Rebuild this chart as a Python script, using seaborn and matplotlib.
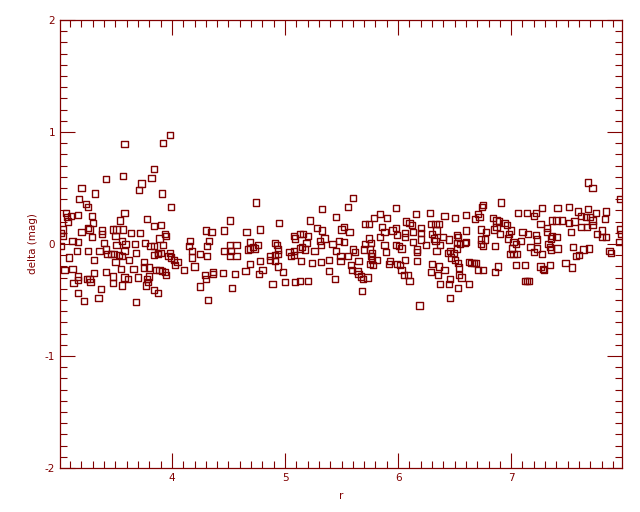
import matplotlib
matplotlib.use("Agg")
import matplotlib.pyplot as plt
from matplotlib.ticker import MultipleLocator
import seaborn as sns
import pandas as pd

# values (r, delta in mag)
r_vals = [
    3.58, 3.84, 3.57, 3.42, 3.82, 3.73, 3.20, 3.71, 3.32, 3.18,
    3.24, 3.26, 3.06, 3.58, 3.17, 3.11, 3.07, 3.29, 3.54, 3.78,
    3.98, 3.92, 3.91, 3.99, 4.51, 4.74, 5.33, 5.22, 5.45, 5.60,
    5.56, 5.98, 6.16, 6.28, 5.84, 5.79, 5.90, 6.07, 6.91, 6.75,
    6.74, 6.41, 6.50, 6.60, 6.71, 6.72, 6.68, 6.84, 6.87, 7.06,
    7.68, 7.72, 7.96, 7.27, 7.41, 7.51, 7.68, 7.59, 7.84, 7.14,
    7.22, 7.20, 7.75, 7.62, 7.70, 7.66, 7.36, 7.40, 7.45, 7.56,
    7.72, 7.83,
    3.08, 3.30, 3.84, 3.26, 3.27, 3.04, 3.20, 3.38, 3.38, 3.48,
    3.51, 3.57, 3.64, 3.72, 3.02, 3.04, 3.29, 3.50, 3.12, 3.17,
    3.40, 3.56, 3.59, 3.51, 3.67, 3.76, 3.81, 3.84, 3.02, 3.16,
    3.26, 3.36, 3.42, 3.43, 3.46, 3.49, 3.53, 3.56, 3.58, 3.68,
    3.62, 3.09, 3.31, 3.50, 3.75, 3.84, 3.75, 3.55, 3.66, 3.05,
    3.12, 3.31, 3.42, 3.80, 3.17, 3.17, 3.25, 3.27, 3.28, 3.48,
    3.58, 3.61, 3.70, 3.80, 3.78, 3.79, 3.48, 3.56, 3.13, 3.77,
    3.84, 3.37, 3.17, 3.35, 3.22, 3.68,
    3.90, 4.30, 4.35, 4.46, 4.66, 3.94, 3.95, 3.89, 4.16, 4.33,
    3.92, 4.15, 4.31, 4.51, 4.57, 4.18, 4.46, 4.52, 4.67, 3.88,
    3.88, 3.90, 3.98, 3.97, 3.99, 4.02, 4.25, 4.31, 4.18, 4.51,
    4.57, 4.05, 4.03, 4.20, 3.86, 3.89, 3.91, 3.94, 3.95, 4.11,
    4.36, 4.36, 4.29, 4.30, 4.45, 4.56, 4.65, 4.25, 4.53, 3.88,
    4.32,
    4.95, 4.78, 5.28, 5.33, 5.50, 5.08, 5.09, 5.13, 5.16, 5.20,
    4.69, 5.35, 5.31, 5.48, 4.91, 4.93, 5.19, 5.32, 5.42, 4.76,
    4.72, 4.73, 4.69, 4.94, 5.15, 5.18, 5.13, 5.04, 5.08, 5.26,
    5.45, 4.94, 4.91, 5.05, 5.08, 4.87, 4.87, 4.91, 4.78, 5.14,
    5.39, 5.49, 5.24, 5.32, 4.94, 4.69, 4.80, 4.98, 5.39, 4.77,
    5.44, 5.00, 5.09, 5.13, 5.20, 4.89,
    6.10, 6.12, 6.29, 5.52, 5.71, 5.74, 5.57, 5.86, 5.88, 5.95,
    5.98, 6.06, 6.13, 6.20, 6.20, 6.30, 5.84, 5.99, 6.06, 5.74,
    6.13, 6.20, 5.52, 5.71, 5.76, 5.88, 5.98, 6.01, 6.03, 6.25,
    6.17, 6.17, 5.60, 5.62, 5.70, 5.75, 5.77, 5.89, 5.56, 5.49,
    5.76, 5.77, 5.81, 5.65, 5.93, 5.92, 5.99, 6.02, 6.06, 6.17,
    5.75, 5.78, 5.58, 5.59, 5.64, 5.65, 6.03, 6.30, 6.29, 6.05,
    6.09, 6.10, 5.67, 5.69, 5.73, 5.68, 6.19,
    6.89, 6.94, 6.96, 6.33, 6.36, 6.34, 6.60, 6.73, 6.78, 6.85,
    6.87, 6.90, 7.00, 6.98, 7.10, 6.52, 6.53, 6.32, 6.33, 6.40,
    6.45, 6.73, 6.77, 6.97, 7.02, 7.04, 7.09, 6.52, 6.55, 6.59,
    6.60, 6.73, 6.75, 6.37, 6.52, 6.86, 7.01, 6.34, 6.46, 6.44,
    6.49, 6.99, 7.02, 7.05, 6.47, 6.50, 6.53, 6.63, 6.65, 6.67,
    6.69, 7.12, 6.54, 6.36, 6.41, 6.71, 6.75, 6.88, 6.86, 7.04,
    6.35, 6.54, 6.56, 6.46, 6.37, 6.45, 6.63, 6.53, 7.12, 6.46,
    7.26, 7.51, 7.32, 7.62, 7.67, 7.72, 7.96, 7.15, 7.32, 7.53,
    7.80, 7.22, 7.36, 7.35, 7.40, 7.76, 7.80, 7.84, 7.97, 7.23,
    7.95, 7.33, 7.17, 7.34, 7.35, 7.41, 7.55, 7.69, 7.64, 7.23,
    7.20, 7.27, 7.87, 7.88, 7.57, 7.60, 7.48, 7.26, 7.28, 7.29,
    7.34, 7.54, 7.14, 7.16,
]
delta_vals = [
    0.89, 0.67, 0.61, 0.58, 0.59, 0.54, 0.50, 0.48, 0.45, 0.40,
    0.36, 0.33, 0.28, 0.28, 0.26, 0.25, 0.24, 0.25, 0.21, 0.22,
    0.97, 0.90, 0.45, 0.33, 0.21, 0.37, 0.31, 0.21, 0.24, 0.41,
    0.33, 0.32, 0.27, 0.28, 0.27, 0.23, 0.23, 0.20, 0.37, 0.35,
    0.33, 0.25, 0.23, 0.26, 0.27, 0.24, 0.22, 0.23, 0.21, 0.28,
    0.55, 0.50, 0.40, 0.32, 0.32, 0.33, 0.31, 0.29, 0.29, 0.28,
    0.28, 0.25, 0.28, 0.25, 0.24, 0.24, 0.21, 0.21, 0.21, 0.20,
    0.21, 0.22,
    0.20, 0.19, 0.16, 0.14, 0.13, 0.13, 0.11, 0.12, 0.09, 0.13,
    0.13, 0.13, 0.10, 0.10, 0.10, 0.07, 0.06, 0.07, 0.03, 0.02,
    0.01, 0.03, 0.00, -0.01, 0.00, 0.01, -0.02, -0.02, -0.02, -0.06,
    -0.06, -0.06, -0.05, -0.09, -0.09, -0.09, -0.10, -0.11, -0.06, -0.08,
    -0.14, -0.12, -0.14, -0.16, -0.16, -0.10, -0.21, -0.22, -0.22, -0.23,
    -0.22, -0.26, -0.25, -0.21, -0.29, -0.32, -0.31, -0.31, -0.34, -0.29,
    -0.30, -0.31, -0.30, -0.29, -0.31, -0.34, -0.35, -0.37, -0.35, -0.37,
    -0.41, -0.40, -0.44, -0.48, -0.51, -0.52,
    0.17, 0.12, 0.11, 0.12, 0.11, 0.09, 0.07, 0.05, 0.03, 0.03,
    -0.01, -0.02, -0.02, -0.01, -0.01, -0.06, -0.06, -0.06, -0.05, -0.08,
    -0.09, -0.08, -0.08, -0.11, -0.12, -0.14, -0.09, -0.11, -0.12, -0.11,
    -0.11, -0.16, -0.19, -0.20, -0.23, -0.23, -0.24, -0.25, -0.28, -0.23,
    -0.25, -0.27, -0.28, -0.31, -0.26, -0.27, -0.24, -0.38, -0.39, -0.44,
    -0.50,
    0.19, 0.13, 0.14, 0.12, 0.13, 0.07, 0.05, 0.09, 0.09, 0.07,
    0.02, 0.05, 0.03, 0.03, 0.01, -0.01, 0.01, -0.01, 0.00, -0.01,
    -0.03, -0.04, -0.04, -0.05, -0.03, -0.05, -0.04, -0.07, -0.06, -0.06,
    -0.06, -0.09, -0.10, -0.11, -0.10, -0.11, -0.14, -0.15, -0.15, -0.15,
    -0.14, -0.15, -0.17, -0.16, -0.20, -0.18, -0.23, -0.25, -0.24, -0.27,
    -0.31, -0.34, -0.34, -0.33, -0.33, -0.36,
    0.19, 0.17, 0.18, 0.15, 0.18, 0.18, 0.11, 0.15, 0.11, 0.12,
    0.14, 0.10, 0.11, 0.14, 0.10, 0.09, 0.06, 0.08, 0.06, 0.05,
    0.02, 0.04, 0.02, 0.00, 0.01, -0.01, -0.01, -0.02, -0.04, -0.01,
    -0.05, -0.07, -0.05, -0.07, -0.05, -0.05, -0.08, -0.07, -0.11, -0.11,
    -0.11, -0.14, -0.14, -0.15, -0.15, -0.18, -0.18, -0.19, -0.14, -0.15,
    -0.18, -0.19, -0.19, -0.23, -0.24, -0.27, -0.23, -0.18, -0.25, -0.28,
    -0.28, -0.33, -0.29, -0.31, -0.30, -0.42, -0.55,
    0.20, 0.19, 0.17, 0.18, 0.18, 0.12, 0.12, 0.13, 0.11, 0.13,
    0.15, 0.09, 0.12, 0.09, 0.11, 0.08, 0.06, 0.05, 0.03, 0.06,
    0.04, 0.04, 0.04, 0.05, 0.02, 0.00, 0.03, 0.01, 0.00, 0.01,
    0.02, 0.00, -0.02, -0.01, -0.04, -0.02, -0.04, -0.06, -0.06, -0.08,
    -0.08, -0.09, -0.09, -0.09, -0.12, -0.14, -0.17, -0.16, -0.17, -0.17,
    -0.17, -0.19, -0.21, -0.20, -0.23, -0.23, -0.23, -0.20, -0.25, -0.19,
    -0.28, -0.28, -0.30, -0.31, -0.36, -0.36, -0.36, -0.39, -0.33, -0.48,
    0.18, 0.19, 0.14, 0.15, 0.15, 0.17, 0.13, 0.09, 0.11, 0.11,
    0.12, 0.08, 0.07, 0.05, 0.06, 0.09, 0.06, 0.06, 0.09, 0.04,
    0.02, 0.00, -0.03, -0.03, -0.05, -0.04, -0.03, -0.04, -0.05, -0.04,
    -0.07, -0.09, -0.06, -0.08, -0.11, -0.10, -0.17, -0.20, -0.22, -0.23,
    -0.19, -0.21, -0.33, -0.33,
]

df = pd.DataFrame({"r": r_vals, "delta": delta_vals})

red = "#800000"

sns.set_style("ticks")
plt.rcParams["font.family"] = ["DejaVu Sans"]
plt.rcParams["axes.unicode_minus"] = False

fig = plt.figure(figsize=(6.4, 5.12), dpi=100)
ax = fig.add_axes([60 / 640, 44 / 512, 562 / 640, 448 / 512])

sns.scatterplot(data=df, x="r", y="delta", ax=ax, marker="s", s=20,
                facecolor="none", edgecolor=red, linewidth=1.0)

ax.set_xlim(3.01, 7.98)
ax.set_ylim(-2, 2)
ax.xaxis.set_major_locator(MultipleLocator(1))
ax.xaxis.set_minor_locator(MultipleLocator(0.1))
ax.yaxis.set_major_locator(MultipleLocator(1))
ax.yaxis.set_minor_locator(MultipleLocator(0.1))

ax.tick_params(which="both", direction="in", top=True, right=True,
               colors=red, labelsize=7.5, width=0.8)
ax.tick_params(which="major", length=11)
ax.tick_params(which="minor", length=5)
for sp in ax.spines.values():
    sp.set_color(red)
    sp.set_linewidth(0.9)

ax.set_xlabel("r", color=red, fontsize=7.5, labelpad=6)
ax.set_ylabel("delta (mag)", color=red, fontsize=7.5, labelpad=5)

fig.savefig("out.png", dpi=100, facecolor="white")
